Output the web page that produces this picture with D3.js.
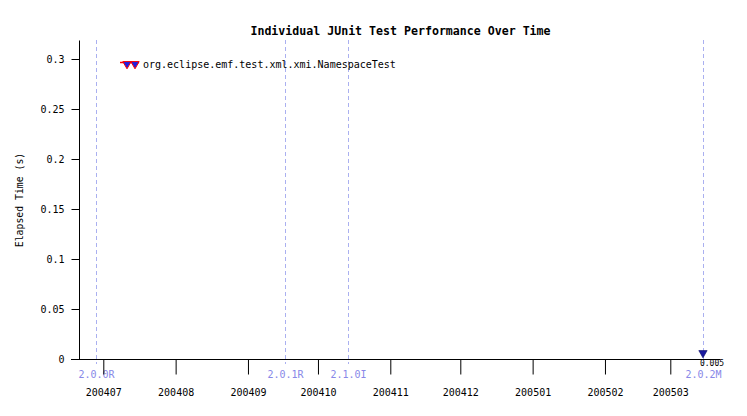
<!DOCTYPE html>
<html><head><meta charset="utf-8">
<script src="https://cdn.jsdelivr.net/npm/d3@7"></script>
<style>body{margin:0;background:#fff}svg{display:block}text{font-family:"DejaVu Sans Mono",monospace}</style>
</head><body>
<svg id="c" width="747" height="416"></svg>
<script>
const title = "Individual JUnit Test Performance Over Time";
const yLabel = "Elapsed Time (s)";
const seriesName = "org.eclipse.emf.test.xml.xmi.NamespaceTest";
const dates = ["2005-03-15"];
const values = [0.005];
const monthTicks = ["2004-07-01","2004-08-01","2004-09-01","2004-10-01","2004-11-01","2004-12-01","2005-01-01","2005-02-01","2005-03-01"];
const milestoneNames = ["2.0.0R","2.0.1R","2.1.0I","2.0.2M"];
const milestoneDates = ["2004-06-28","2004-09-17","2004-10-14","2005-03-15"];
const yTicks = [0,0.05,0.1,0.15,0.2,0.25,0.3];

const p = d3.timeParse("%Y-%m-%d");
const svg = d3.select("#c");
const x = d3.scaleTime().domain([p("2004-07-01"), p("2005-03-01")]).range([103.3, 670.3]);
const y = d3.scaleLinear().domain([0, 0.3]).range([359, 59]);
const FS = "10px";

svg.append("text").attr("x", 400.5).attr("y", 35).attr("text-anchor","middle")
  .style("font-size","11.6px").style("font-weight","bold").text(title);

// milestones
const ms = svg.append("g");
milestoneDates.forEach((d,i)=>{
  const xx = Math.round(x(p(d)))+0.5;
  ms.append("line").attr("x1",xx).attr("x2",xx).attr("y1",40).attr("y2",364)
    .attr("stroke","#aab0f0").attr("stroke-dasharray","4,3");
  ms.append("text").attr("x",xx).attr("y",378).attr("text-anchor","middle")
    .attr("fill","#8888e8").style("font-size",FS).text(milestoneNames[i]);
});

// y axis
const ya = svg.append("g").attr("transform","translate(79.5,0)")
  .call(d3.axisLeft(y).tickValues(yTicks).tickSize(8).tickPadding(7).tickFormat(d3.format("")));
ya.select(".domain").attr("d","M0,40.5V359.5");
ya.selectAll("text").style("font-size",FS).attr("fill","#000");

// x axis
const xa = svg.append("g").attr("transform","translate(0,359.5)")
  .call(d3.axisBottom(x).tickValues(monthTicks.map(p)).tickSize(15).tickFormat(d3.timeFormat("%Y%m")));
xa.select(".domain").attr("d","M71,0H720");
xa.selectAll("text").style("font-size",FS).attr("fill","#000").attr("y",36.5).attr("dy",null);
svg.selectAll(".tick line").attr("stroke","#000");

svg.append("text").attr("transform","translate(23,200) rotate(-90)").attr("text-anchor","middle")
  .style("font-size","9.8px").text(yLabel);

// data
const tri = d3.symbol().type(d3.symbolTriangle).size(30);
dates.forEach((d,i)=>{
  const px = x(p(d)), py = y(values[i]);
  svg.append("path").attr("d",tri).attr("transform",`translate(${px},${py-1}) rotate(180)`)
    .attr("fill","#1a1aa0").attr("stroke","#000060").attr("stroke-width",0.6);
  svg.append("text").attr("x",px-3).attr("y",py+12).style("font-size","8px").text(values[i]);
});

// legend
const lg = svg.append("g");
lg.append("line").attr("x1",120).attr("x2",139).attr("y1",62.5).attr("y2",62.5).attr("stroke","red").attr("stroke-width",1.5);
[127,135].forEach(cx=>{
  lg.append("path").attr("d",tri).attr("transform",`translate(${cx},64) rotate(180)`)
    .attr("fill","#2020e0").attr("stroke","red").attr("stroke-width",1);
});
lg.append("text").attr("x",143).attr("y",68).style("font-size",FS).text(seriesName);
</script>
</body></html>
